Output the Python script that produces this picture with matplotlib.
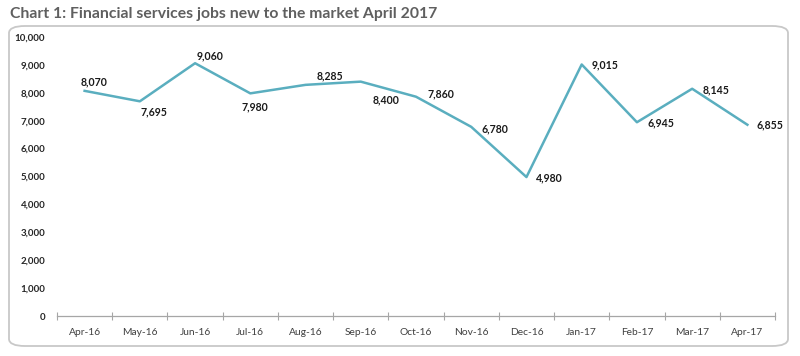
import numpy as np
import matplotlib
matplotlib.use("Agg")
import matplotlib.pyplot as plt
from matplotlib.patches import FancyBboxPatch

plt.rcParams['font.family'] = ['Lato', 'DejaVu Sans']

months = ["Apr-16", "May-16", "Jun-16", "Jul-16", "Aug-16", "Sep-16", "Oct-16",
          "Nov-16", "Dec-16", "Jan-17", "Feb-17", "Mar-17", "Apr-17"]
jobs = [8070, 7695, 9060, 7980, 8285, 8400, 7860, 6780, 4980, 9015, 6945, 8145, 6855]
# label offsets (pixels, right / down)
lab_dx = [9, 14, 15, 5, 24, 25, 25, 24, 23, 23, 24, 24, 23]
lab_dy = [-9, 11, -7, 13, -9, 18, -3, 2, 1, 0, 1, 1, 0]

fig = plt.figure(figsize=(8, 3.56), dpi=100)

# rounded frame around the chart
frame = FancyBboxPatch((9 / 800, 10 / 356), 779 / 800, 320 / 356,
                       boxstyle="round,pad=0,rounding_size=0.02",
                       transform=fig.transFigure, fc="none", ec="#c8c8c8", lw=1.3,
                       zorder=-1)
fig.patches.append(frame)

fig.text(10 / 800, 1 - 14 / 356, "Chart 1: Financial services jobs new to the market April 2017",
         fontsize=11.3, fontweight="bold", color="#5f5f5f", va="center", ha="left")

ax = fig.add_axes([57 / 800, 40 / 356, 718 / 800, 279 / 356])
ax.set_facecolor("none")
x = np.arange(len(months))
ax.plot(x, jobs, color="#5aaebf", lw=1.8)

for xi, v, dx, dy in zip(x, jobs, lab_dx, lab_dy):
    ax.annotate(f"{v:,}", (xi, v), xytext=(dx * 0.72, -dy * 0.72), textcoords="offset points",
                ha="center", va="center", fontsize=7.6, fontweight="bold", color="#1a1a1a")

ax.set_xlim(-0.5, len(months) - 0.5)
ax.set_ylim(0, 10000)
ax.set_yticks(np.arange(0, 10001, 1000))
ax.set_yticklabels([f"{t:,}" for t in range(0, 10001, 1000)], fontsize=7,
                   fontweight="bold", color="#262626")
ax.tick_params(axis="y", length=0, pad=8.5)

ax.set_xticks(np.arange(-0.5, len(months)), minor=False)
ax.set_xticklabels([])
ax.set_xticks(x, minor=True)
ax.set_xticklabels(months, minor=True, fontsize=7.4, color="#404040")
ax.tick_params(axis="x", which="major", direction="inout", length=6, color="#a6a6a6", width=0.8)
ax.tick_params(axis="x", which="minor", length=0, pad=8.5)

for s in ["top", "right", "left"]:
    ax.spines[s].set_visible(False)
ax.spines["bottom"].set_color("#a6a6a6")
ax.spines["bottom"].set_linewidth(0.9)

fig.savefig("out.png", dpi=100)
